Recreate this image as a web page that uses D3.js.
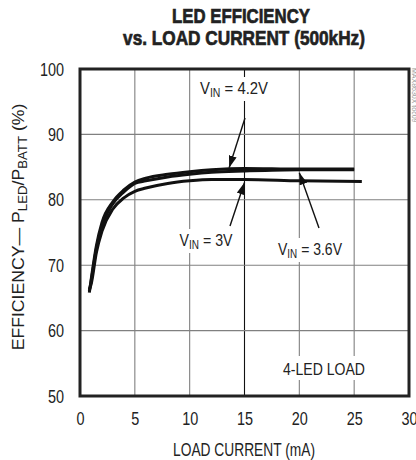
<!DOCTYPE html>
<html>
<head>
<meta charset="utf-8">
<script src="https://cdn.jsdelivr.net/npm/d3@7"></script>
<style>
  html, body { margin: 0; padding: 0; background: #fff; }
  svg { display: block; }
  text { font-family: "Liberation Sans", Arial, sans-serif; fill: #222; }
</style>
</head>
<body>
<div id="chart"></div>
<script>
// Load current (mA) and efficiency (%) for each input voltage
const current42 = [0.85, 1, 1.5, 2, 3, 4, 5, 6, 8, 10, 12, 15, 20, 25];
const eff42     = [65.8, 67.6, 73.0, 76.5, 79.7, 81.5, 82.7, 83.3, 83.9, 84.3, 84.6, 84.8, 84.7, 84.7];
const current36 = [0.85, 1, 1.5, 2, 3, 4, 5, 6, 8, 10, 12, 15, 20, 25];
const eff36     = [66.0, 67.4, 72.6, 76.0, 79.4, 81.2, 82.5, 82.9, 83.5, 83.9, 84.2, 84.4, 84.6, 84.6];
const current30 = [0.85, 1, 1.5, 2, 3, 4, 5, 6, 8, 10, 12, 15, 20, 25.7];
const eff30     = [66.3, 67.0, 72.0, 75.2, 78.6, 80.3, 81.3, 81.8, 82.5, 82.9, 83.1, 83.1, 82.9, 82.8];

const xTicks = [0, 5, 10, 15, 20, 25, 30];
const yTicks = [50, 60, 70, 80, 90, 100];

const W = 416, H = 460;
const plotL = 80, plotR = 409, plotT = 69, plotB = 396;
const NARROW = 0.76;   // horizontal squeeze giving a condensed face

const svg = d3.select("#chart").append("svg").attr("width", W).attr("height", H);

const x = d3.scaleLinear().domain([0, 30]).range([plotL, plotR]);
const y = d3.scaleLinear().domain([50, 100]).range([plotB, plotT]);

// Place a text at (cx, baseline) and squeeze it to the given width
function fitted(parent, cx, baseline, width, size, opts = {}) {
  const g = parent.append("g").attr("transform", `translate(${cx},${baseline})${opts.rotate ? " rotate(" + opts.rotate + ")" : ""}`);
  const t = g.append("text").attr("x", 0).attr("y", 0)
    .attr("text-anchor", "middle").attr("font-size", size);
  if (opts.bold) t.attr("font-weight", "bold").attr("stroke", "#222").attr("stroke-width", 0.7);
  return { g, t, fit() {
    const w = t.node().getComputedTextLength();
    t.attr("transform", `scale(${width / w},1)`);
  }};
}

// Title
let tt = fitted(svg, 241, 23, 138, 21, { bold: true });
tt.t.text("LED EFFICIENCY"); tt.fit();
tt = fitted(svg, 244, 45, 242, 21, { bold: true });
tt.t.text("vs. LOAD CURRENT (500kHz)"); tt.fit();

// Grid
const grid = svg.append("g");
grid.selectAll("line.v").data(xTicks.slice(1, -1)).join("line")
  .attr("x1", d => x(d)).attr("x2", d => x(d)).attr("y1", plotT).attr("y2", plotB)
  .attr("stroke", d => d === 15 ? "#111" : "#808080").attr("stroke-width", 1.1);
grid.selectAll("line.h").data(yTicks.slice(1, -1)).join("line")
  .attr("x1", plotL).attr("x2", plotR).attr("y1", d => y(d)).attr("y2", d => y(d))
  .attr("stroke", "#808080").attr("stroke-width", 1.1);

// Axes tick labels
const xAxis = d3.axisBottom(x).tickValues(xTicks).tickSize(0).tickPadding(16);
const gx = svg.append("g").attr("transform", `translate(0,${plotB})`).call(xAxis);
gx.select(".domain").remove();
gx.selectAll("text").attr("font-size", 19).attr("font-family", null).attr("fill", "#222")
  .attr("transform", `scale(${NARROW},1)`);

const yAxis = d3.axisLeft(y).tickValues(yTicks).tickSize(0).tickPadding(16 / NARROW);
const gy = svg.append("g").attr("transform", `translate(${plotL},0)`).call(yAxis);
gy.select(".domain").remove();
gy.selectAll("text").attr("font-size", 19).attr("font-family", null).attr("fill", "#222")
  .attr("transform", `scale(${NARROW},1)`);

// Axis titles
tt = fitted(svg, 244, 456, 142, 18);
tt.t.text("LOAD CURRENT (mA)"); tt.fit();

tt = fitted(svg, 24, 227, 247, 16, { rotate: -90 });
tt.t.append("tspan").text("EFFICIENCY\u2014 P");
tt.t.append("tspan").attr("font-size", 12).attr("dy", 3).text("LED");
tt.t.append("tspan").attr("dy", -3).text("/P");
tt.t.append("tspan").attr("font-size", 12).attr("dy", 3).text("BATT");
tt.t.append("tspan").attr("dy", -3).text(" (%)");
tt.fit();

// Labels with white knock-out boxes
function vinLabel(cx, baseline, value, width) {
  svg.append("rect").attr("x", cx - width / 2 - 5).attr("y", baseline - 17)
    .attr("width", width + 10).attr("height", 24).attr("fill", "#fff");
  const lab = fitted(svg, cx, baseline, width, 17);
  lab.t.append("tspan").text("V");
  lab.t.append("tspan").attr("font-size", 12).attr("dy", 3).text("IN");
  lab.t.append("tspan").attr("dy", -3).text(" = " + value);
  lab.fit();
}
vinLabel(234, 94, "4.2V", 68);
vinLabel(206, 246, "3V", 53);
vinLabel(310, 255, "3.6V", 64);

svg.append("rect").attr("x", 278).attr("y", 356).attr("width", 92).attr("height", 24).attr("fill", "#fff");
tt = fitted(svg, 324, 375, 82, 17);
tt.t.text("4-LED LOAD"); tt.fit();

// Curves
const line = d3.line().x(d => x(d[0])).y(d => y(d[1])).curve(d3.curveMonotoneX);
const series = [
  d3.zip(current30, eff30),
  d3.zip(current36, eff36),
  d3.zip(current42, eff42)
];
svg.append("g").selectAll("path").data(series).join("path")
  .attr("d", line).attr("fill", "none").attr("stroke", "#111")
  .attr("stroke-width", 3).attr("stroke-linejoin", "round");

// Pointer arrows
svg.append("defs").append("marker").attr("id", "head")
  .attr("viewBox", "0 0 12 8").attr("refX", 12).attr("refY", 4)
  .attr("markerWidth", 12).attr("markerHeight", 8).attr("markerUnits", "userSpaceOnUse")
  .attr("orient", "auto")
  .append("path").attr("d", "M0,0 L12,4 L0,8 Z").attr("fill", "#111");

function arrow(x1, y1, tx, ty) {
  svg.append("line").attr("x1", x1).attr("y1", y1).attr("x2", tx).attr("y2", ty)
    .attr("stroke", "#111").attr("stroke-width", 1.4).attr("marker-end", "url(#head)");
}
arrow(245, 118, x(13.6), y(84.6) - 2);
arrow(230, 226, x(15), y(83.1) + 3);
arrow(319, 228, x(20), y(84.6) + 3);

// Frame
svg.append("rect").attr("x", plotL).attr("y", plotT).attr("width", plotR - plotL).attr("height", plotB - plotT)
  .attr("fill", "none").attr("stroke", "#222").attr("stroke-width", 3);

// Figure tag
svg.append("text").attr("transform", "translate(412,68) rotate(90)")
  .attr("font-size", 7).style("fill", "#999").text("MAX8630X toc09");
</script>
</body>
</html>
